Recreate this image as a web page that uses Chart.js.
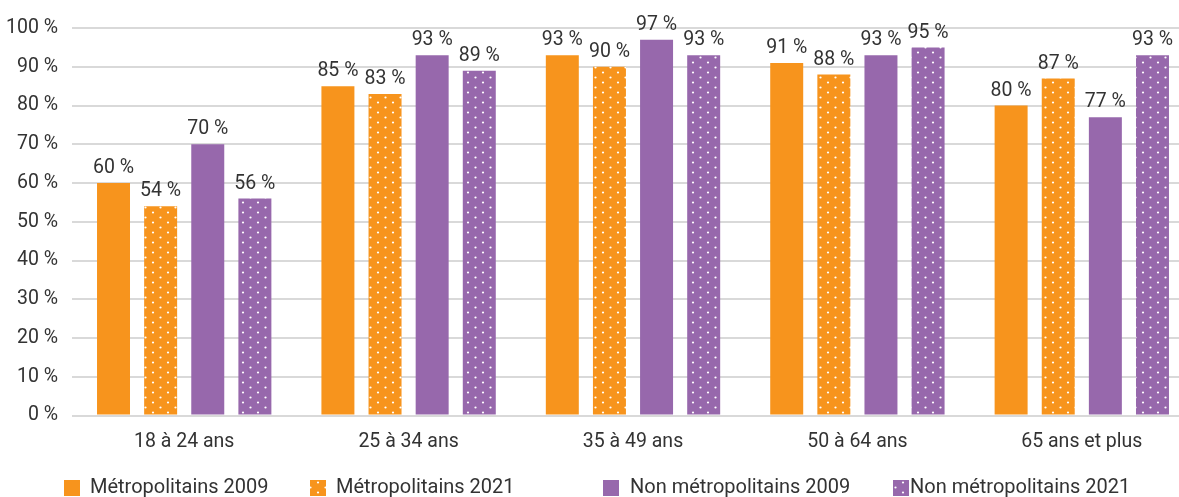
<!DOCTYPE html>
<html>
<head>
<meta charset="utf-8">
<script src="https://cdn.jsdelivr.net/npm/chart.js@4"></script>
<style>
  html, body { margin: 0; padding: 0; background: #fff; overflow: hidden; }
  #wrap { width: 1194px; height: 497px; position: relative; }
</style>
</head>
<body>
<div id="wrap"><canvas id="chart"></canvas></div>
<script>
// categories and series
const categories = ['18 à 24 ans', '25 à 34 ans', '35 à 49 ans', '50 à 64 ans', '65 ans et plus'];
const seriesNames = ['Métropolitains 2009', 'Métropolitains 2021', 'Non métropolitains 2009', 'Non métropolitains 2021'];
const metro2009    = [60, 85, 93, 91, 80];
const metro2021    = [54, 83, 90, 88, 87];
const nonMetro2009 = [70, 93, 97, 93, 77];
const nonMetro2021 = [56, 89, 93, 95, 93];
const yTicks = [0, 10, 20, 30, 40, 50, 60, 70, 80, 90, 100];

const ORANGE = '#F7941D';
const PURPLE = '#9768AC';
const TEXT   = '#333333';
const FONT   = "Roboto, 'Open Sans', sans-serif";

// white dotted fill (staggered dots)
function dots(color) {
  const c = document.createElement('canvas');
  c.width = 15; c.height = 10;
  const g = c.getContext('2d');
  g.fillStyle = color;
  g.fillRect(0, 0, 15, 10);
  g.fillStyle = '#fff';
  g.beginPath(); g.arc(3, 2.5, 1.1, 0, Math.PI * 2); g.fill();
  g.beginPath(); g.arc(10.5, 7.5, 1.1, 0, Math.PI * 2); g.fill();
  return g.createPattern(c, 'repeat');
}

const fills = [ORANGE, dots(ORANGE), PURPLE, dots(PURPLE)];
const values = [metro2009, metro2021, nonMetro2009, nonMetro2021];

// labels above each bar
const barLabels = {
  id: 'barLabels',
  afterDatasetsDraw(chart) {
    const ctx = chart.ctx;
    ctx.save();
    ctx.font = '19.5px ' + FONT;
    ctx.fillStyle = TEXT;
    ctx.textAlign = 'center';
    ctx.textBaseline = 'bottom';
    chart.data.datasets.forEach((ds, i) => {
      chart.getDatasetMeta(i).data.forEach((bar, j) => {
        ctx.fillText(ds.data[j] + ' %', bar.x, bar.y - 5);
      });
    });
    ctx.restore();
  }
};

// legend laid out like the original (uneven gaps)
const legendX = [64, 310, 603, 893];
const legendGap = [26, 26, 27, 17];
const bottomLegend = {
  id: 'bottomLegend',
  afterDraw(chart) {
    const ctx = chart.ctx;
    ctx.save();
    ctx.font = '20px ' + FONT;
    ctx.textBaseline = 'middle';
    seriesNames.forEach((name, i) => {
      ctx.fillStyle = fills[i];
      ctx.fillRect(legendX[i], 480, 16, 16);
      ctx.fillStyle = TEXT;
      ctx.fillText(name, legendX[i] + legendGap[i], 488);
    });
    ctx.restore();
  }
};

new Chart(document.getElementById('chart'), {
  type: 'bar',
  data: {
    labels: categories,
    datasets: seriesNames.map((name, i) => ({
      label: name,
      data: values[i],
      backgroundColor: fills[i],
      borderWidth: 0,
      categoryPercentage: 0.84,
      barPercentage: 0.7
    }))
  },
  options: {
    responsive: true,
    maintainAspectRatio: false,
    animation: false,
    layout: { padding: { top: 28, right: 0, bottom: 28, left: 0 } },
    plugins: { legend: { display: false }, tooltip: { enabled: false } },
    scales: {
      x: {
        grid: { display: false, drawTicks: false },
        border: { display: false },
        ticks: { color: TEXT, font: { family: FONT, size: 19.5 }, padding: 15 }
      },
      y: {
        min: 0, max: 100,
        afterBuildTicks: axis => { axis.ticks = yTicks.map(v => ({ value: v })); },
        afterFit: axis => { axis.width = 72; },
        grid: { color: '#D9D9D9', lineWidth: 2, drawTicks: false },
        border: { display: false },
        ticks: {
          color: TEXT, font: { family: FONT, size: 19.5 }, padding: 14,
          callback: v => v + ' %'
        }
      }
    }
  },
  plugins: [barLabels, bottomLegend]
});
</script>
</body>
</html>
